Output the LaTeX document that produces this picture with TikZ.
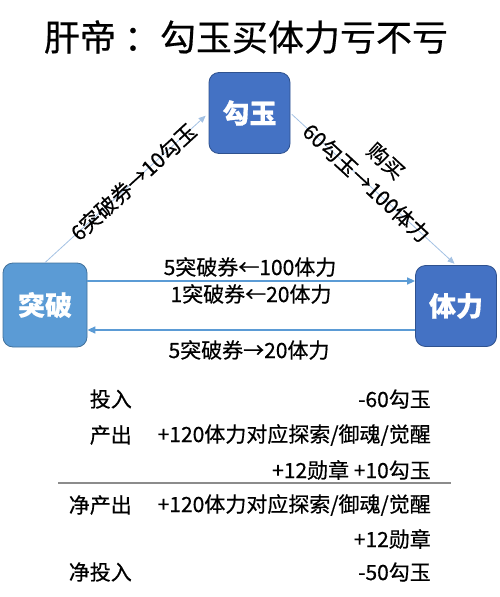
\documentclass[tikz,border=0pt]{standalone}
\usepackage{fontspec}
\setmainfont{Noto Sans CJK SC}[FakeBold=0.5]
\usepackage{tikz}
\usetikzlibrary{arrows.meta,positioning}
\definecolor{skyblue}{HTML}{5B9BD5}
\definecolor{skyedge}{HTML}{41719C}
\definecolor{royal}{HTML}{4472C4}
\definecolor{royaledge}{HTML}{2F528F}
\definecolor{paleline}{HTML}{A3C1E3}
\definecolor{rulegray}{HTML}{8C8C8C}

\begin{document}
\begin{tikzpicture}[x=1pt,y=-1pt,
  box/.style={draw=skyedge,fill=skyblue,rounded corners=10pt,line width=0.8pt,
    minimum width=84pt,minimum height=84pt,text=white,
    font=\fontsize{27}{30}\selectfont\bfseries},
  darkbox/.style={box,draw=royaledge,fill=royal,minimum width=81pt,minimum height=81pt},
  lbl/.style={font=\fontsize{21}{24}\selectfont,inner sep=1pt},
  cell/.style={font=\fontsize{21}{24}\selectfont,inner sep=0pt,anchor=east},
  arr/.style={-{Triangle[length=7pt,width=6pt]},line width=0.8pt,draw=paleline},
  harr/.style={-{Triangle[length=8pt,width=7pt]},line width=1.5pt,draw=skyblue}
]
\useasboundingbox (0,0) rectangle (500,597);
\node[font=\fontsize{36}{40}\selectfont] (title) at (246,37) {肝帝 ：勾玉买体力亏不亏};
% the three boxes
\node[darkbox] (gouyu) at (249.5,113) {勾玉};
\node[box] (tupo) at (45,305) {突破};
\node[darkbox] (tili) at (456,306) {体力};
% exchanges
\draw[arr,shorten >=4pt] (tupo.north) -- node[lbl,sloped,pos=0.54] {6突破券→10勾玉} (gouyu.west);
\draw[arr,shorten <=2pt,shorten >=2pt] (gouyu.east) -- node[lbl,sloped,pos=0.46] (trade) {60勾玉→100体力} (tili.north);
\node[lbl,rotate=-42.6] (buy) at (386,161) {购买};
\draw[harr] ([yshift=24pt]tupo.east) -- ([yshift=24pt]tupo.east -| tili.west);
\draw[harr] ([yshift=-24pt]tili.west) -- ([yshift=-24pt]tili.west -| tupo.east);
\node[lbl] (sell1) at (250,267) {5突破券←100体力};
\node[lbl] (sell2) at (251,294) {1突破券←20体力};
\node[lbl] (back) at (249,350) {5突破券→20体力};
% summary
\node[cell] (in) at (132,399) {投入};
\node[cell] (inv) at (431,399) {-60勾玉};
\node[cell] (out) at (132,435) {产出};
\node[cell] (outv) at (431,435) {+120体力对应探索/御魂/觉醒};
\node[cell] (outw) at (431,470) {+12勋章 +10勾玉};
\coordinate (ruleL) at (58,483);
\coordinate (ruleR) at (451,483);
\draw[rulegray,line width=1.2pt] (ruleL) -- (ruleR);
\node[cell] (net) at (132,505) {净产出};
\node[cell] (netv) at (431,505) {+120体力对应探索/御魂/觉醒};
\node[cell] (netw) at (431,539) {+12勋章};
\node[cell] (netin) at (132,572) {净投入};
\node[cell] (netinv) at (431,572) {-50勾玉};
\end{tikzpicture}
\end{document}
